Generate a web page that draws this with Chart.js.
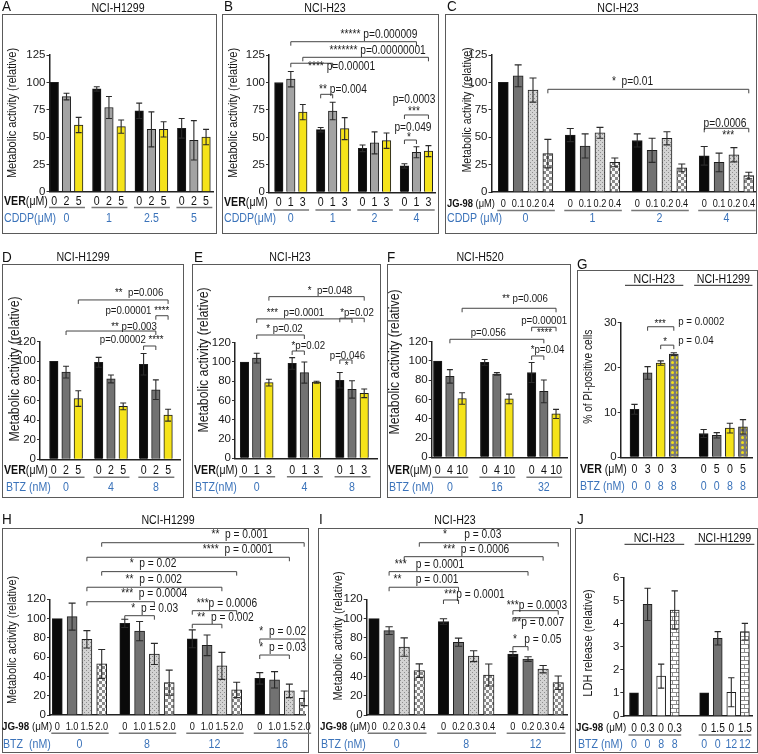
<!DOCTYPE html>
<html><head><meta charset="utf-8">
<script src="https://cdn.jsdelivr.net/npm/chart.js@4.4.1/dist/chart.umd.min.js"></script>
<style>
html,body{margin:0;padding:0;background:#fff}
#wrap{position:relative;width:758px;height:754px;overflow:hidden;background:#fff}
#wrap canvas{position:absolute;left:0;top:0}
</style></head><body><div id="wrap"></div>
<script>
// ================= DATA =================
// Panel A  (NCI-H1299, VER x CDDP)
const A_ver  = ['0','2','5'];
const A_cddp = ['0','1','2.5','5'];
const A_mean = [100,87,61, 94,77,59.5, 74,57,57, 58,47,50];
const A_err  = [0,3,7, 2,10,6, 7,16,7, 9,18,7];
// Panel B  (NCI-H23, VER x CDDP)
const B_ver  = ['0','1','3'];
const B_cddp = ['0','1','2','4'];
const B_mean = [100,103,73, 57,74,58, 40,45,47, 24,36.5,37.5];
const B_err  = [0,7,7, 2,8,10, 3,10,7, 2,5,5];
// Panel C  (NCI-H23, JG-98 x CDDP)
const C_jg   = ['0','0.1','0.2','0.4'];
const C_cddp = ['0','1','2','4'];
const C_mean = [100,106,93,35, 52,42,54,27, 47,38,49,22, 33,27,34,15];
const C_err  = [0,10,11,13, 6,11,5,4, 6,11,6,3.5, 8.5,8.5,6.5,3];
// Panel D  (NCI-H1299, VER x BTZ)
const D_ver  = ['0','2','5'];
const D_btz  = ['0','4','8'];
const D_mean = [100,89,62, 99,82,54, 97,71,45];
const D_err  = [0,6,8, 5,4,3.5, 11,10,6];
// Panel E  (NCI-H23, VER x BTZ)
const E_ver  = ['0','1','3'];
const E_btz  = ['0','4','8'];
const E_mean = [100,104,78.5, 98.5,89,79, 81,71.5,67.5];
const E_err  = [0,5,3.5, 6,11,1, 8,9,4.5];
// Panel F  (NCI-H520, VER x BTZ)
const F_ver  = ['0','4','10'];
const F_btz  = ['0','16','32'];
const F_mean = [100,84,61, 98.6,86.5,60.6, 88,68.5,45];
const F_err  = [0,7,6, 3,1.4,5, 10.4,11.8,4.8];
// Panel G  (% PI-positive cells)
const G_lines = ['NCI-H23','NCI-H1299'];
const G_ver  = ['0','3','0','3','0','5','0','5'];
const G_btz  = ['0','0','8','8','0','0','8','8'];
const G_mean = [10.7,18.8,21,23, 5.3,4.9,6.5,6.8];
const G_err  = [1.1,1.4,0.5,0.3, 0.9,0.6,1.1,1.6];
// Panel H  (NCI-H1299, JG-98 x BTZ)
const H_jg   = ['0','1.0','1.5','2.0'];
const H_btz  = ['0','8','12','16'];
const H_mean = [100,102,78.5,53, 95,87,63.3,33.5, 79,72.3,51,26, 38,36.5,25,17.3];
const H_err  = [0,14,9,15, 4.3,10,11,13, 9.3,10.7,14,8, 6,8.5,7,7.6];
// Panel I  (NCI-H23, JG-98 x BTZ)
const I_jg   = ['0','0.2','0.3','0.4'];
const I_btz  = ['0','8','12'];
const I_mean = [100,87.5,70.5,46, 97,75.5,61,41.5, 63.3,58,47.5,33.5];
const I_err  = [0,4,9.5,7, 2.8,4.2,5.6,11.4, 2.4,2.4,3.8,7];
// Panel J  (LDH release)
const J_lines = ['NCI-H23','NCI-H1299'];
const J_jg   = ['0','0.3','0','0.3','0','1.5','0','1.5'];
const J_btz  = ['0','0','8','8','0','0','12','12'];
const J_mean = [1,4.84,1.73,4.6, 1,3.37,1.03,3.66];
const J_err  = [0,0.7,0.52,0.83, 0,0.29,0.63,0.36];

// significance annotations: [fromBar, toBar, bracketValue, [[text, xUnit, yValue, align], ...]]
const B_sig = [
  [1,10,137.1,[['***** p=0.000009',8.35,143.8,'center']]],
  [2,11,122.9,[['******* p=0.00000001',8.24,128.5,'center']]],
  [1,4,117.5,[['**** p=0.00001',5.23,114.3,'center']]],
  [3,4,89.2,[['** p=0.004',5.35,93.8,'center']]],
  [9,11,70.4,[['p=0.0003',11.27,84,'center'],['***',11.27,73.1,'center']]],
  [9,10,47.6,[['p=0.049',11.18,59.2,'center'],['*',10.84,49.4,'center']]]
];
const C_sig = [
  [3,15,93.7,[['*  p=0.01',8.7,100.6,'center']]],
  [12,15,58.1,[['p=0.0006',14.93,62.7,'center'],['***',15.15,51.1,'center']]]
];
const D_sig = [
  [2,8,162.6,[['**  p=0.006',6.97,170,'center']]],
  [7,8,146.5,[['p=0.00001 ****',6.82,151.3,'center']]],
  [1,7,130.9,[['** p=0.003',6.55,134.7,'center']]],
  [6,7,115.6,[['p=0.00002 ****',6.36,121.7,'center']]]
];
const E_sig = [
  [2,8,167.8,[['*  p=0.048',7.01,174,'center']]],
  [6,8,145.4,[['*p=0.02',9.22,150.6,'center']]],
  [1,7,144.7,[['***  p=0.0001',4.18,150.6,'center']]],
  [1,4,128,[['* p=0.02',3.28,134.3,'center']]],
  [3,4,111.4,[['*p=0.02',5.23,116.6,'center']]],
  [6,7,102.1,[['p=0.046',8.44,106.2,'center'],['*',8.38,95.8,'center']]]
];
const F_sig = [
  [2,8,154.7,[['** p=0.006',7.16,164.1,'center']]],
  [6,8,135,[['p=0.00001',8.73,141.5,'center'],['****',8.75,129.1,'center']]],
  [1,7,122.5,[['p=0.056',4.15,129.4,'center']]],
  [6,7,105.2,[['*p=0.04',9.0,111.4,'center']]]
];
const G_sig = [
  [1,3,29.1,[['***',1.95,29.7,'center'],['p = 0.0002',3.34,30.2,'left']]],
  [2,3,25.0,[['*',2.33,25.7,'center'],['p = 0.04',3.34,26,'left']]]
];
const H_sig = [
  [3,15,178.7,[['**  p = 0.001',12.32,186.7,'center']]],
  [2,14,163.6,[['****  p = 0.0001',12.2,171.2,'center']]],
  [3,11,148.7,[['*  p = 0.02',6.47,156.6,'center']]],
  [2,10,132.5,[['**  p = 0.002',6.52,140.8,'center']]],
  [2,6,117.5,[['***  p = 0.0004',6.55,125.5,'center']]],
  [4,6,103,[['*  p = 0.03',6.58,110.7,'center']]],
  [8,11,108.2,[['***p = 0.0006',9.42,115.1,'left']]],
  [8,10,94.1,[['**  p = 0.002',9.46,100.5,'left']]],
  [12,15,78.8,[['*  p = 0.02',13.65,86.2,'left']]],
  [12,14,62.2,[['*  p = 0.03',13.65,69.4,'left']]]
];
const I_sig = [
  [3,11,178.7,[['*',4.7,186.7,'center'],['p = 0.03',5.98,186.7,'left']]],
  [2,10,164.2,[['***  p = 0.0006',6.77,171.2,'center']]],
  [1,9,148.7,[['***',1.77,155.6,'center'],['p = 0.0001',2.76,155.6,'left']]],
  [1,5,132.5,[['**',1.56,140,'center'],['p = 0.001',2.76,140,'left']]],
  [4,5,119.3,[['***p = 0.0001',4.66,124.5,'left']]],
  [8,11,108.2,[['***p = 0.0003',8.79,113.1,'left']]],
  [8,10,100.9,[['**p = 0.007',9.23,95.7,'left']]],
  [8,9,70.9,[['*',9.34,77.8,'center'],['p = 0.05',9.95,77.8,'left']]]
];

// ================= STYLE / HELPERS =================
const FAM = '"Liberation Sans", Arial, Helvetica, sans-serif';
const SX = 0.85;
const BLUE = '#3b73ba';
const probe = document.createElement('canvas').getContext('2d');
probe.font = '20px "Liberation Sans Narrow", monospace';
const wN = probe.measureText('abcdefghijklmnop0123').width;
probe.font = '20px monospace';
const wM = probe.measureText('abcdefghijklmnop0123').width;
const HAS_NARROW = Math.abs(wN - wM) > 1;
const TICKFONT = HAS_NARROW ? {family:'"Liberation Sans Narrow"', size:13} : {family:FAM, size:11.5};

function mkPat(kind){
  const c = document.createElement('canvas');
  if (kind==='dots'){ c.width=c.height=4; }
  else if (kind==='checker'){ c.width=c.height=6; }
  else if (kind==='ydots'){ c.width=c.height=5; }
  else { c.width=c.height=8; }
  const g = c.getContext('2d');
  if (kind==='dots'){ g.fillStyle='#d3d3d3'; g.fillRect(0,0,4,4); g.fillStyle='#8e8e8e'; g.fillRect(0,0,1,1); g.fillRect(2,2,1,1); }
  else if (kind==='checker'){ g.fillStyle='#fafafa'; g.fillRect(0,0,6,6); g.fillStyle='#8a8a8a'; g.fillRect(0,0,3,3); g.fillRect(3,3,3,3); }
  else if (kind==='ydots'){ g.fillStyle='#7a7a7a'; g.fillRect(0,0,5,5); g.fillStyle='#f2e01c'; g.beginPath(); g.arc(2.5,2.5,1.5,0,Math.PI*2); g.fill(); }
  else { g.fillStyle='#fff'; g.fillRect(0,0,8,8); g.fillStyle='#8c8c8c'; g.fillRect(0,0,8,1); g.fillRect(0,4,8,1); g.fillRect(0,0,1,4); g.fillRect(4,4,1,4); }
  return g.createPattern(c,'repeat');
}
const STY = {
  black:'#0a0a0a', lgray:'#a3a3a3', dgray:'#727272', yellow:'#f5e31a', white:'#ffffff',
  dots:mkPat('dots'), checker:mkPat('checker'), ydots:mkPat('ydots'), brick:mkPat('brick')
};

function drawRich(c, parts, x, y, size, color, align, sx){
  sx = sx || SX;
  c.save(); c.textBaseline = 'middle'; c.textAlign = 'left';
  const ws = parts.map(p => { c.font = (p[1]?'bold ':'') + size + 'px ' + FAM; return c.measureText(p[0]).width; });
  const tot = ws.reduce((a,b)=>a+b,0) * sx;
  const x0 = align==='center' ? x - tot/2 : (align==='right' ? x - tot : x);
  c.translate(x0, y); c.scale(sx, 1);
  let cx = 0;
  parts.forEach((p,i) => { c.font = (p[1]?'bold ':'') + size + 'px ' + FAM; c.fillStyle = p[2] || color; c.fillText(p[0], cx, 0); cx += ws[i]; });
  c.restore();
}
function drawRot(c, text, x, y, size){
  c.save(); c.translate(x, y); c.rotate(-Math.PI/2);
  drawRich(c, [[text,0]], 0, 0, size, '#1a1a1a', 'center');
  c.restore();
}

function panel(cfg){
  const cv = document.createElement('canvas');
  cv.width = 758; cv.height = 754;
  document.getElementById('wrap').appendChild(cv);
  const n = cfg.n, per = n + cfg.gap;
  const pos = k => Math.floor(k/n)*per + (k % n);
  const xmin = (cfg.axisX - cfg.first)/cfg.spacing;
  const xmax = (cfg.right - cfg.first)/cfg.spacing;
  const extras = {
    id: 'extras' + cfg.id,
    afterDatasetsDraw(chart){
      const meta = chart.getDatasetMeta(0), ys = chart.scales.y, c = chart.ctx;
      c.save(); c.strokeStyle = '#2a2a2a'; c.lineWidth = 1.1;
      meta.data.forEach((el,k) => {
        const e = cfg.err[k];
        if (!e) return;
        const m = cfg.mean[k];
        const yt = ys.getPixelForValue(m+e), yb = ys.getPixelForValue(Math.max(0,m-e));
        const hw = cfg.bw*0.35;
        c.beginPath();
        c.moveTo(el.x, yt); c.lineTo(el.x, yb);
        c.moveTo(el.x-hw, yt); c.lineTo(el.x+hw, yt);
        c.moveTo(el.x-hw, yb); c.lineTo(el.x+hw, yb);
        c.stroke();
      });
      c.restore();
    },
    afterDraw(chart){
      const c = chart.ctx, meta = chart.getDatasetMeta(0);
      const xs = meta.data.map(e => e.x);
      const xsc = chart.scales.x, ysc = chart.scales.y;
      const G = cfg.mean.length / n;
      // frame
      c.save(); c.strokeStyle = '#5a5a5a'; c.lineWidth = 1;
      const b = cfg.box; c.strokeRect(b[0]+0.5, b[1]+0.5, b[2]-b[0], b[3]-b[1]);
      c.restore();
      drawRich(c, [[cfg.id,0]], cfg.letter[0], cfg.letter[1], 15, '#111', 'left', 0.9);
      if (cfg.title) drawRich(c, [[cfg.title[0],0]], cfg.title[1], cfg.title[2], 12.5, '#111', 'center');
      if (cfg.subs){
        cfg.subs.forEach((s,g) => {
          const x1 = xs[g*n] - cfg.bw/2 - 5, x2 = xs[g*n+n-1] + cfg.bw/2 + 5;
          drawRich(c, [[s,0]], (x1+x2)/2, cfg.subY, 12.5, '#111', 'center');
          c.save(); c.strokeStyle='#222'; c.lineWidth=1; c.beginPath(); c.moveTo(x1, cfg.subY+6); c.lineTo(x2, cfg.subY+6); c.stroke(); c.restore();
        });
      }
      drawRot(c, cfg.yTitle[0], cfg.yTitle[1], cfg.yTitle[2], cfg.yTitle[3]);
      // rows
      const rt = cfg.rowTop;
      drawRich(c, rt.parts, rt.lx, rt.y, rt.size, '#111', 'left');
      xs.forEach((x,k) => drawRich(c, [[rt.vals[rt.perBar ? k : k % n],0]], x, rt.y, rt.vsize, '#111', 'center'));
      if (cfg.ul){
        c.save(); c.strokeStyle='#777'; c.lineWidth=1.4;
        for (let g=0; g<G; g++){
          c.beginPath(); c.moveTo(xs[g*n]-cfg.bw/2-1, cfg.ul); c.lineTo(xs[g*n+n-1]+cfg.bw/2+2, cfg.ul); c.stroke();
        }
        c.restore();
      }
      const rb = cfg.rowBot;
      drawRich(c, rb.parts, rb.lx, rb.y, rb.size, BLUE, 'left');
      if (rb.perBar) xs.forEach((x,k) => drawRich(c, [[rb.vals[k],0]], x, rb.y, rb.vsize, BLUE, 'center'));
      else for (let g=0; g<G; g++) drawRich(c, [[rb.vals[g],0]], (xs[g*n]+xs[g*n+n-1])/2, rb.y, rb.vsize, BLUE, 'center');
      // significance brackets
      c.save(); c.strokeStyle = '#444'; c.lineWidth = 1;
      (cfg.sig || []).forEach(s => {
        const x1 = xs[s[0]], x2 = xs[s[1]], y = ysc.getPixelForValue(s[2]);
        c.beginPath(); c.moveTo(x1, y+4); c.lineTo(x1, y); c.lineTo(x2, y); c.lineTo(x2, y+4); c.stroke();
        s[3].forEach(t => drawRich(c, [[t[0],0]], xsc.getPixelForValue(t[1]), ysc.getPixelForValue(t[2]), cfg.sigSize, '#1a1a1a', t[3]));
      });
      c.restore();
    }
  };
  new Chart(cv, {
    type: 'bar',
    data: { datasets: [{
      data: cfg.mean.map((m,k) => ({x: pos(k), y: m})),
      backgroundColor: cfg.mean.map((m,k) => STY[cfg.styles[k % n]]),
      borderColor: '#1e1e1e', borderWidth: 1, barThickness: cfg.bw
    }]},
    options: {
      responsive: false, animation: false, devicePixelRatio: 1,
      layout: { padding: { left: cfg.axisX - 30, right: 758 - cfg.right, top: cfg.top, bottom: 754 - cfg.bottom } },
      plugins: { legend: {display:false}, tooltip: {enabled:false} },
      scales: {
        x: { type:'linear', min:xmin, max:xmax, bounds:'data', offset:false,
             afterFit: s => { s.height = 0; },
             ticks:{display:false}, grid:{display:false},
             border:{display:true, color:'#222', width:1.5} },
        y: { min:0, max:cfg.yMax,
             afterFit: s => { s.width = 30; },
             ticks:{stepSize:cfg.step, font:TICKFONT, color:'#1a1a1a', padding:1},
             grid:{display:true, drawOnChartArea:false, drawTicks:true, tickLength:3, color:'#333', lineWidth:1},
             border:{display:true, color:'#222', width:1.5} }
      }
    },
    plugins: [extras]
  });
}

const MA = 'Metabolic activity (relative)';
const ROW_VER = [['VER',1],['(μM)',0]];
const ROW_JG = [['JG-98',1],[' (μM)',0]];

panel({id:'A', mean:A_mean, err:A_err, styles:['black','lgray','yellow'], n:3, gap:0.48, first:54.3, spacing:12.2, bw:8.5,
  axisX:49.5, right:213, top:55, bottom:191.7, yMax:125, step:25,
  box:[2,14,216,233], letter:[2,7], title:['NCI-H1299',118,8.3], yTitle:[MA,12.7,113,13],
  rowTop:{parts:ROW_VER, lx:4, y:201.7, size:12.5, vals:A_ver, vsize:12.5}, ul:207.5,
  rowBot:{parts:[['CDDP(μM)',0]], lx:4, y:218.3, size:12.5, vals:A_cddp, vsize:12.5}, sig:[], sigSize:12});

panel({id:'B', mean:B_mean, err:B_err, styles:['black','lgray','yellow'], n:3, gap:0.49, first:278.8, spacing:12, bw:8.5,
  axisX:269, right:435, top:55, bottom:192.3, yMax:125, step:25,
  box:[222,14,438,233], letter:[224,7], title:['NCI-H23',325,8.3], yTitle:[MA,233.5,113,13],
  rowTop:{parts:ROW_VER, lx:224, y:203, size:12.5, vals:B_ver, vsize:12.5}, ul:210,
  rowBot:{parts:[['CDDP(μM)',0]], lx:224, y:219, size:12.5, vals:B_cddp, vsize:12.5}, sig:B_sig, sigSize:12});

panel({id:'C', mean:C_mean, err:C_err, styles:['black','dgray','dots','checker'], n:4, gap:0.51, first:503.3, spacing:14.85, bw:10,
  axisX:491.5, right:756, top:55, bottom:192, yMax:125, step:25,
  box:[445,14,756,233], letter:[447,7], title:['NCI-H23',618,8.3], yTitle:[MA,467.5,110,12.5],
  rowTop:{parts:ROW_JG, lx:447, y:204, size:11, vals:C_jg, vsize:10.8}, ul:210.5,
  rowBot:{parts:[['CDDP (μM)',0]], lx:447, y:218.3, size:12.5, vals:C_cddp, vsize:12.5}, sig:C_sig, sigSize:12});

panel({id:'D', mean:D_mean, err:D_err, styles:['black','dgray','yellow'], n:3, gap:0.665, first:53.8, spacing:12.25, bw:8.5,
  axisX:40, right:180, top:341.7, bottom:459.3, yMax:120, step:20,
  box:[2,264,183,497], letter:[2,257.5], title:['NCI-H1299',83,258], yTitle:[MA,15,369,14.5],
  rowTop:{parts:ROW_VER, lx:4, y:471, size:12.5, vals:D_ver, vsize:12.5}, ul:477.3,
  rowBot:{parts:[['BTZ (nM)',0]], lx:6, y:487.3, size:12.5, vals:D_btz, vsize:12.5}, sig:D_sig, sigSize:11.4});

panel({id:'E', mean:E_mean, err:E_err, styles:['black','dgray','yellow'], n:3, gap:0.906, first:244.5, spacing:12.2, bw:8.5,
  axisX:235, right:377, top:342.7, bottom:458.3, yMax:120, step:20,
  box:[192,264,380,497], letter:[194,257.5], title:['NCI-H23',290,258], yTitle:[MA,203.5,360,14.5],
  rowTop:{parts:ROW_VER, lx:194, y:471, size:12.5, vals:E_ver, vsize:12.5}, ul:476.7,
  rowBot:{parts:[['BTZ(nM)',0]], lx:195, y:487.7, size:12.5, vals:E_btz, vsize:12.5}, sig:E_sig, sigSize:11.4});

panel({id:'F', mean:F_mean, err:F_err, styles:['black','dgray','yellow'], n:3, gap:0.85, first:437.7, spacing:12.2, bw:8.5,
  axisX:431.7, right:567, top:341.7, bottom:457.3, yMax:120, step:20,
  box:[387,264,570,497], letter:[387,257.5], title:['NCI-H520',480,258], yTitle:[MA,395,362,14.5],
  rowTop:{parts:ROW_VER, lx:388, y:471, size:12.5, vals:F_ver, vsize:12.5}, ul:477.3,
  rowBot:{parts:[['BTZ (nM)',0]], lx:389, y:487.3, size:12.5, vals:F_btz, vsize:12.5}, sig:F_sig, sigSize:11.4});

panel({id:'G', mean:G_mean, err:G_err, styles:['black','dgray','yellow','ydots'], n:4, gap:1.28, first:634.5, spacing:13.1, bw:9,
  axisX:620.7, right:752, top:322.7, bottom:457.3, yMax:30, step:10,
  box:[577,270,757,497], letter:[577,265], title:null, subs:G_lines, subY:279.3, yTitle:['% of PI-positive cells',588.3,376.7,12],
  rowTop:{parts:[['VER',1],[' (μM)',0]], lx:580, y:470, size:12.5, vals:G_ver, vsize:12.5, perBar:true}, ul:null,
  rowBot:{parts:[['BTZ (nM)',0]], lx:580, y:486.7, size:12.5, vals:G_btz, vsize:12.5, perBar:true}, sig:G_sig, sigSize:11.4});

panel({id:'H', mean:H_mean, err:H_err, styles:['black','dgray','dots','checker'], n:4, gap:0.56, first:57.3, spacing:14.8, bw:10,
  axisX:50, right:305, top:599.3, bottom:715, yMax:120, step:20,
  box:[2,528,308,752], letter:[2,520], title:['NCI-H1299',168,520.7], yTitle:[MA,12.7,640,12.8],
  rowTop:{parts:ROW_JG, lx:2, y:726.7, size:11.5, vals:H_jg, vsize:10.8}, ul:733.3,
  rowBot:{parts:[['BTZ  (nM)',0]], lx:3, y:745, size:12.5, vals:H_btz, vsize:12.5}, sig:H_sig, sigSize:12});

panel({id:'I', mean:I_mean, err:I_err, styles:['black','dgray','dots','checker'], n:4, gap:0.6, first:374, spacing:15.1, bw:10.5,
  axisX:366.7, right:567, top:599.3, bottom:715, yMax:120, step:20,
  box:[318,528,570,752], letter:[319,520], title:['NCI-H23',455,520.7], yTitle:[MA,338.3,636,12.9],
  rowTop:{parts:ROW_JG, lx:320, y:726.7, size:11.5, vals:I_jg, vsize:10.8}, ul:733.3,
  rowBot:{parts:[['BTZ (nM)',0]], lx:321, y:745, size:12.5, vals:I_btz, vsize:12.5}, sig:I_sig, sigSize:12});

panel({id:'J', mean:J_mean, err:J_err, styles:['black','dgray','white','brick'], n:4, gap:1.17, first:634, spacing:13.57, bw:9,
  axisX:623.3, right:752, top:577.7, bottom:716, yMax:6, step:1,
  box:[575,528,757,752], letter:[577,520], title:null, subs:J_lines, subY:538.3, yTitle:['LDH release (relative)',588.3,643,13],
  rowTop:{parts:ROW_JG, lx:576, y:728.3, size:11.5, vals:J_jg, vsize:12, perBar:true}, ul:735,
  rowBot:{parts:[['BTZ (nM)',0]], lx:578, y:745, size:12.5, vals:J_btz, vsize:12.5, perBar:true}, sig:[], sigSize:12});
</script>
</body></html>
